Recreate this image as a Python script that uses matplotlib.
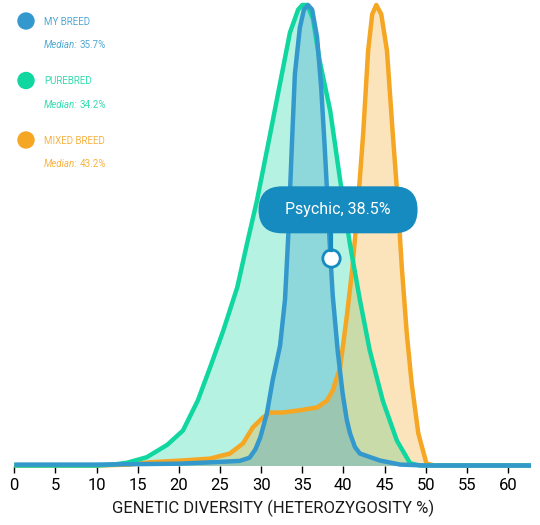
import numpy as np
import matplotlib
matplotlib.use("Agg")
import matplotlib.pyplot as plt
from matplotlib.patches import FancyBboxPatch, Ellipse
from matplotlib.lines import Line2D
from matplotlib.transforms import IdentityTransform

plt.rcParams['font.family'] = ['Roboto', 'DejaVu Sans']

# curves (x = heterozygosity %, y = relative density)
my_x = [0, 10, 20, 24, 27.4, 28.6, 29.3, 29.9, 30.7, 31.4, 32.3, 32.9, 33.3, 33.7, 34.1, 34.7,
        35.2, 35.7, 36.2, 36.8, 37.3, 37.7, 38.0, 38.4, 38.7, 39.3, 39.9, 40.4, 40.8, 41.4, 42.0,
        44.4, 46.9, 50, 62.8]
my_y = [0.002, 0.002, 0.004, 0.007, 0.01, 0.017, 0.035, 0.061, 0.113, 0.185, 0.26, 0.36, 0.5, 0.68,
        0.85, 0.95, 0.99, 1.0, 0.99, 0.93, 0.82, 0.7, 0.6, 0.46, 0.37, 0.25, 0.157, 0.1, 0.07, 0.04,
        0.026, 0.011, 0.002, 0, 0]

pure_x = [0, 10, 12, 13.7, 16.1, 18.6, 20.5, 22.3, 23.8, 25.4, 27.1, 28.3, 29.5, 31.1, 32.3, 33.5,
          34.5, 35.0, 35.6, 36.3, 37.1, 38.4, 39.6, 40.8, 42.0, 43.2, 44.8, 46.5, 48.1, 49.3, 62.8]
pure_y = [0, 0, 0.002, 0.006, 0.018, 0.045, 0.076, 0.141, 0.213, 0.293, 0.387, 0.483, 0.576, 0.72,
          0.83, 0.94, 0.99, 1.0, 1.0, 0.97, 0.88, 0.77, 0.62, 0.48, 0.36, 0.25, 0.14, 0.054, 0.005,
          0, 0]

mixed_x = [0, 10, 14, 16.5, 20.5, 23.8, 26.2, 27.8, 29.0, 30.2, 31.1, 32.6, 34.7, 36.8, 38.0, 38.7,
           39.6, 40.4, 41.1, 41.8, 42.4, 43.0, 43.5, 44.0, 44.6, 45.3, 46.0, 46.6, 47.1, 47.7, 48.3,
           49.1, 50.1, 51.1, 62.8]
mixed_y = [0, 0, 0.002, 0.007, 0.011, 0.015, 0.026, 0.048, 0.083, 0.104, 0.115, 0.115, 0.12, 0.126,
           0.141, 0.163, 0.213, 0.322, 0.43, 0.576, 0.72, 0.9, 0.98, 1.0, 0.98, 0.9, 0.72, 0.576,
           0.43, 0.287, 0.178, 0.07, 0.004, 0, 0]

labels = ['MY BREED', 'PUREBRED', 'MIXED BREED']
medians = [35.7, 34.2, 43.2]
colors = ['#3399cc', '#10d6a0', '#f5a623']

dog_label = 'Psychic'
dog_value = 38.5
dog_y = 0.451
pill_color = '#168bbf'

W, H = 540, 525
fig = plt.figure(figsize=(W / 100, H / 100), dpi=100)
ax = fig.add_axes([14.3 / W, 1 - 465.5 / H, (531 - 14.3) / W, (465.5 - 5) / H])

# fills: green, orange, blue
ax.fill_between(pure_x, pure_y, color=colors[1], alpha=0.3, lw=0)
ax.fill_between(mixed_x, mixed_y, color=colors[2], alpha=0.3, lw=0)
ax.fill_between(my_x, my_y, color=colors[0], alpha=0.3, lw=0)

line_kw = dict(lw=3.2, clip_on=False, solid_capstyle='butt', solid_joinstyle='round')
ax.plot(mixed_x, mixed_y, color=colors[2], **line_kw)
ax.plot(pure_x, pure_y, color=colors[1], **line_kw)
ax.plot(my_x, my_y, color=colors[0], **line_kw)

ax.set_xlim(0, 62.8)
ax.set_ylim(0, 1.0)
ax.set_xticks(np.arange(0, 61, 5))
ax.set_yticks([])
for s in ax.spines.values():
    s.set_visible(False)
ax.tick_params(axis='x', length=5, width=1, color='black', labelsize=12, pad=4)
ax.set_xlabel('GENETIC DIVERSITY (HETEROZYGOSITY %)', fontsize=12, color='#1a1a1a', labelpad=5)
ax.patch.set_alpha(0)

# median marker + tooltip
ax.plot([dog_value], [dog_y], marker='o', ms=12.5, mfc='white', mec=pill_color, mew=2,
        zorder=6, clip_on=False)
mx, my = ax.transData.transform((dog_value, dog_y))
pw, ph = 159, 47
cx, cy = mx + 7, my + 48
fig.add_artist(Line2D([mx, mx], [my + 8, cy], color=pill_color, lw=3,
                      transform=IdentityTransform(), zorder=5))
fig.add_artist(FancyBboxPatch((cx - pw / 2, cy - ph / 2), pw, ph,
                              boxstyle=f"round,pad=0,rounding_size={ph / 2}",
                              fc=pill_color, ec='none', transform=IdentityTransform(), zorder=7))
fig.text(cx, cy, f'{dog_label}, {dog_value}%', transform=IdentityTransform(), color='white',
         fontsize=11.5, ha='center', va='center', zorder=8)

# legend
renderer = fig.canvas.get_renderer()
for i, (lab, med, c) in enumerate(zip(labels, medians, colors)):
    yc = 21 + i * 59.5
    fig.add_artist(Ellipse((26 / W, 1 - yc / H), 16 / W, 16 / H, color=c,
                           transform=fig.transFigure))
    fig.text(44 / W, 1 - (yc + 1) / H, lab, color=c, fontsize=7, va='center', alpha=0.85)
    t = fig.text(44 / W, 1 - (yc + 24) / H, 'Median:', color=c, fontsize=7, style='italic',
                 va='center', alpha=0.85)
    bb = t.get_window_extent(renderer)
    fig.text(bb.x1 + 2, bb.y0 + bb.height / 2, f'{med}%', color=c, fontsize=7, va='center',
             transform=IdentityTransform(), alpha=0.85)

fig.savefig('out.png', dpi=100)
